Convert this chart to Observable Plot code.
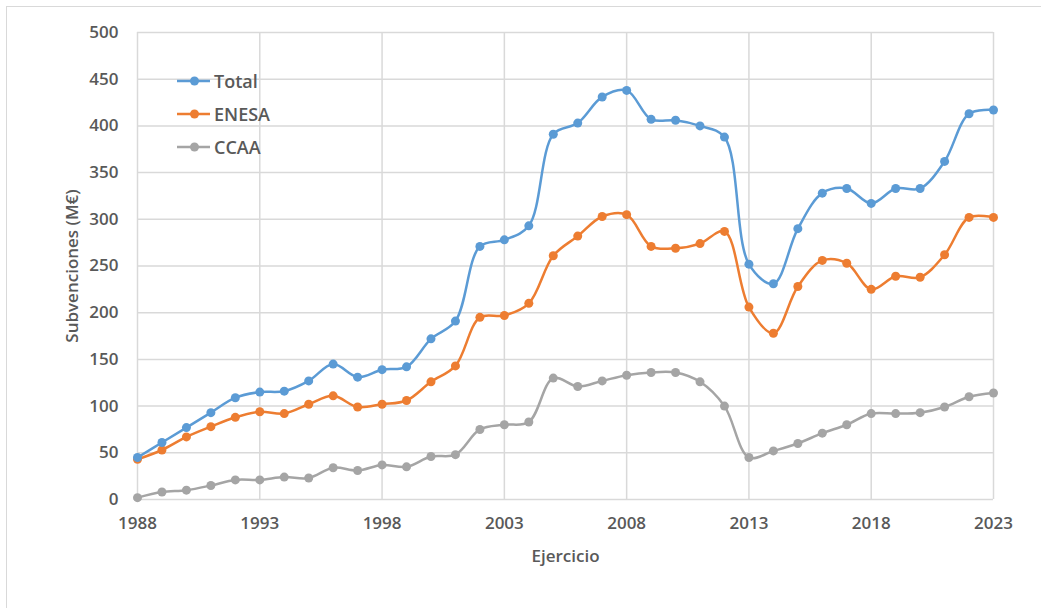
<!DOCTYPE html>
<html>
<head>
<meta charset="utf-8">
<script src="https://cdn.jsdelivr.net/npm/d3@7"></script>
<script src="https://cdn.jsdelivr.net/npm/@observablehq/plot@0.6"></script>
<style>
  html, body { margin: 0; padding: 0; background: #fff; }
  #wrap { position: relative; width: 1041px; height: 608px; overflow: hidden; font-family: "Open Sans", sans-serif; }
  #frame { position: absolute; left: 6px; top: 6px; width: 1100px; height: 700px; border-left: 1.5px solid #d9d9d9; border-top: 1.5px solid #d9d9d9; }
  #chart { position: absolute; left: 0; top: 0; }
  #legend { position: absolute; left: 177px; top: 64px; }
  .item { display: flex; align-items: center; height: 33.3px; font-size: 18px; font-weight: 600; color: #595959; }
  .item svg { margin-right: 3px; }
</style>
</head>
<body>
<div id="wrap">
  <div id="frame"></div>
  <div id="chart"></div>
  <div id="legend"></div>
</div>
<script>
const years = d3.range(1988, 2024);
const seriesNames = ["Total", "ENESA", "CCAA"];
const seriesColors = ["#5B9BD5", "#ED7D31", "#A5A5A5"];
const total = [45, 61, 77, 93, 109, 115, 116, 127, 145, 131, 139, 142, 172, 191, 271, 278, 293, 391, 403, 431, 438, 407, 406, 400, 388, 252, 231, 290, 328, 333, 317, 333, 333, 362, 413, 417];
const enesa = [43, 53, 67, 78, 88, 94, 92, 102, 111, 99, 102, 106, 126, 143, 195, 197, 210, 261, 282, 303, 305, 271, 269, 274, 287, 206, 178, 228, 256, 253, 225, 239, 238, 262, 302, 302];
const ccaa = [2, 8, 10, 15, 21, 21, 24, 23, 34, 31, 37, 35, 46, 48, 75, 80, 83, 130, 121, 127, 133, 136, 136, 126, 100, 45, 52, 60, 71, 80, 92, 92, 93, 99, 110, 114];
const xTicks = [1988, 1993, 1998, 2003, 2008, 2013, 2018, 2023];
const yTicks = [0, 50, 100, 150, 200, 250, 300, 350, 400, 450, 500];

const seriesValues = [total, enesa, ccaa];
const data = [];
seriesNames.forEach((name, i) => {
  years.forEach((y, j) => data.push({series: name, year: y, value: seriesValues[i][j]}));
});
// draw CCAA first, Total last (Total on top)
const order = ["CCAA", "ENESA", "Total"];
const grid = "#d9d9d9";

const chart = Plot.plot({
  width: 1041,
  height: 608,
  marginLeft: 137,
  marginRight: 48,
  marginTop: 32,
  marginBottom: 109,
  style: {fontFamily: "Open Sans, sans-serif", fontSize: "17px", fontWeight: 600, color: "#595959", background: "transparent"},
  x: {domain: [1988, 2023]},
  y: {domain: [0, 500]},
  color: {domain: seriesNames, range: seriesColors},
  marks: [
    Plot.gridX(xTicks, {stroke: grid, strokeOpacity: 1, strokeWidth: 1.5}),
    Plot.gridY(yTicks, {stroke: grid, strokeOpacity: 1, strokeWidth: 1.5}),
    Plot.axisX(xTicks, {tickSize: 0, tickPadding: 17, tickFormat: d => String(d), label: "Ejercicio", labelAnchor: "center", labelArrow: "none", labelOffset: 62}),
    Plot.axisY(yTicks, {tickSize: 0, tickPadding: 19, label: "Subvenciones (M€)", labelAnchor: "center", labelArrow: "none", labelOffset: 72}),
    ...order.map(name => Plot.line(data.filter(d => d.series === name), {x: "year", y: "value", stroke: "series", strokeWidth: 2.5, curve: "catmull-rom"})),
    ...order.map(name => Plot.dot(data.filter(d => d.series === name), {x: "year", y: "value", fill: "series", r: 4.5}))
  ]
});
document.getElementById("chart").appendChild(chart);

const legend = document.getElementById("legend");
seriesNames.forEach((name, i) => {
  const div = document.createElement("div");
  div.className = "item";
  div.innerHTML = `<svg width="34" height="12"><line x1="0" y1="6" x2="33" y2="6" stroke="${seriesColors[i]}" stroke-width="2.5"/><circle cx="17.5" cy="6" r="4.5" fill="${seriesColors[i]}"/></svg><span>${name}</span>`;
  legend.appendChild(div);
});
</script>
</body>
</html>
